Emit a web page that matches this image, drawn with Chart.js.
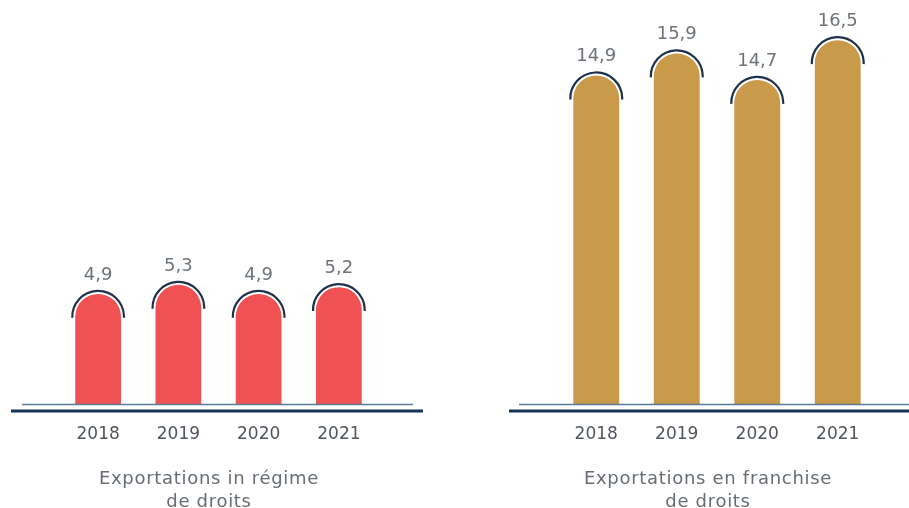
<!DOCTYPE html>
<html lang="fr">
<head>
<meta charset="UTF-8">
<title>Exportations</title>
<script src="https://cdn.jsdelivr.net/npm/chart.js"></script>
<style>
  html, body { margin: 0; padding: 0; background: #fff; }
  body { width: 909px; height: 508px; position: relative; overflow: hidden; font-family: "DejaVu Sans", sans-serif; }
  .box { position: absolute; top: 0; height: 508px; }
  .caption { position: absolute; top: 466px; width: 300px; text-align: center; color: #666d74; font-size: 18px; letter-spacing: 0.7px; line-height: 23px; }
</style>
</head>
<body>
<div class="box" style="left:0;width:440px"><canvas id="leftChart"></canvas></div>
<div class="box" style="left:450px;width:459px"><canvas id="rightChart"></canvas></div>
<div class="caption" style="left:59px">Exportations in régime<br>de droits</div>
<div class="caption" style="left:558px">Exportations en franchise<br>de droits</div>

<script>
// data
const years = ['2018', '2019', '2020', '2021'];
const regimeValues = [4.9, 5.3, 4.9, 5.2];
const franchiseValues = [14.9, 15.9, 14.7, 16.5];

// arcs over the rounded tops, value labels and the two baselines
const domePlugin = {
    id: 'domes',
    afterDatasetsDraw(chart, args, opts) {
        const ctx = chart.ctx;
        const meta = chart.getDatasetMeta(0);
        const values = chart.data.datasets[0].data;
        const area = chart.chartArea;
        ctx.save();

        ctx.strokeStyle = '#5a7a99';
        ctx.lineWidth = 1.5;
        ctx.beginPath();
        ctx.moveTo(area.left - opts.thin[0], area.bottom);
        ctx.lineTo(area.right + opts.thin[1], area.bottom);
        ctx.stroke();

        ctx.strokeStyle = '#15355a';
        ctx.lineWidth = 3;
        ctx.beginPath();
        ctx.moveTo(area.left - opts.thick[0], area.bottom + 6.5);
        ctx.lineTo(area.right + opts.thick[1], area.bottom + 6.5);
        ctx.stroke();

        meta.data.forEach((bar, i) => {
            const r = bar.width / 2;
            ctx.beginPath();
            ctx.arc(bar.x, bar.y + r, r + 3, Math.PI - 0.04, 2 * Math.PI + 0.04);
            ctx.strokeStyle = '#1e3149';
            ctx.lineWidth = 2.2;
            ctx.stroke();

            ctx.fillStyle = '#6c737a';
            ctx.font = '18px "DejaVu Sans"';
            ctx.textAlign = 'center';
            ctx.textBaseline = 'middle';
            ctx.fillText(String(values[i]).replace('.', ','), bar.x, bar.y - 19);
        });
        ctx.restore();
    }
};

function makeChart(id, values, color, yMax, pad, lines) {
    return new Chart(document.getElementById(id), {
        type: 'bar',
        data: {
            labels: years,
            datasets: [{
                data: values,
                backgroundColor: color,
                borderRadius: 100,
                borderSkipped: 'start',
                categoryPercentage: 1,
                barPercentage: 0.57
            }]
        },
        options: {
            responsive: true,
            maintainAspectRatio: false,
            animation: false,
            layout: { padding: pad },
            plugins: {
                legend: { display: false },
                tooltip: { enabled: false },
                domes: lines
            },
            scales: {
                x: {
                    grid: { display: false, drawTicks: false },
                    border: { display: false },
                    ticks: {
                        padding: 20,
                        color: '#50565d',
                        font: { family: 'DejaVu Sans', size: 17 }
                    }
                },
                y: { display: false, min: 0, max: yMax }
            }
        },
        plugins: [domePlugin]
    });
}

makeChart('leftChart', regimeValues, '#f05152', 17.6,
    { left: 58, right: 61, top: 7, bottom: 43 },
    { thin: [36, 34], thick: [47, 44] });

makeChart('rightChart', franchiseValues, '#c99a49', 18,
    { left: 106, right: 31, top: 7, bottom: 43 },
    { thin: [37, 40], thick: [47, 40] });
</script>
</body>
</html>
